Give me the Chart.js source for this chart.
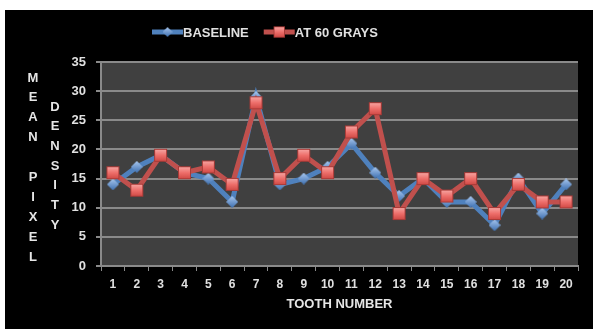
<!DOCTYPE html>
<html>
<head>
<meta charset="utf-8">
<script src="https://cdn.jsdelivr.net/npm/chart.js@4.4.1/dist/chart.umd.min.js"></script>
<style>
  html, body { margin: 0; padding: 0; background: #ffffff; }
  #frame { position: absolute; left: 5px; top: 10px; width: 588px; height: 319px; background: #000000; }
  #chart { display: block; }
</style>
</head>
<body>
<div id="frame"><canvas id="chart" width="588" height="319"></canvas></div>
<script>
// Tooth numbers along the x axis
const teeth = ['1','2','3','4','5','6','7','8','9','10','11','12','13','14','15','16','17','18','19','20'];
// Mean pixel density per tooth
const baseline = [14, 17, 19, 16, 15, 11, 29, 14, 15, 17, 21, 16, 12, 15, 11, 11, 7, 15, 9, 14];
const at60Grays = [16, 13, 19, 16, 17, 14, 28, 15, 19, 16, 23, 27, 9, 15, 12, 15, 9, 14, 11, 11];
// Y axis ticks
const yTicks = [0, 5, 10, 15, 20, 25, 30, 35];

const FONT = '"Liberation Sans", Arial, sans-serif';
const BLUE = '#4f81bd';
const RED = '#c0504d';

// Dark plot background behind the grid
const plotBg = {
  id: 'plotBg',
  beforeDraw(chart) {
    const { ctx, chartArea: a } = chart;
    ctx.save();
    ctx.fillStyle = '#404040';
    ctx.fillRect(a.left, a.top, a.right - a.left, a.bottom - a.top);
    ctx.restore();
  }
};

// Marker shapes with a soft gradient fill
function squareMarker() {
  const s = 15, c = document.createElement('canvas');
  c.width = s; c.height = s;
  const g = c.getContext('2d');
  const grd = g.createLinearGradient(0, 0, 0, s);
  grd.addColorStop(0, '#f9b3b0');
  grd.addColorStop(0.5, '#ee6f6b');
  grd.addColorStop(1, '#c9403c');
  g.fillStyle = grd;
  g.fillRect(1, 1, s - 2, s - 2);
  g.strokeStyle = '#a83a37';
  g.lineWidth = 1;
  g.strokeRect(1.5, 1.5, s - 3, s - 3);
  return c;
}
function diamondMarker() {
  const s = 12, c = document.createElement('canvas');
  c.width = s; c.height = s;
  const g = c.getContext('2d');
  const grd = g.createLinearGradient(0, 0, 0, s);
  grd.addColorStop(0, '#a9c8ef');
  grd.addColorStop(1, '#3d6fb0');
  g.fillStyle = grd;
  g.beginPath();
  g.moveTo(s / 2, 0); g.lineTo(s, s / 2); g.lineTo(s / 2, s); g.lineTo(0, s / 2);
  g.closePath();
  g.fill();
  return c;
}
const sq = squareMarker();
const dm = diamondMarker();

// Legend across the top and the stacked y axis title
const decorations = {
  id: 'decorations',
  afterDraw(chart) {
    const ctx = chart.ctx;
    ctx.save();
    ctx.font = 'bold 13px ' + FONT;
    ctx.textBaseline = 'middle';
    ctx.textAlign = 'left';
    const items = [
      { label: 'BASELINE', color: BLUE, mark: dm },
      { label: 'AT 60 GRAYS', color: RED, mark: sq }
    ];
    let x = 147;
    const y = 22;
    items.forEach(it => {
      ctx.strokeStyle = it.color;
      ctx.lineWidth = 5;
      ctx.beginPath();
      ctx.moveTo(x, y); ctx.lineTo(x + 31, y);
      ctx.stroke();
      ctx.drawImage(it.mark, x + 15.5 - (it.mark.width - 2) / 2, y - (it.mark.height - 2) / 2, it.mark.width - 2, it.mark.height - 2);
      ctx.fillStyle = '#e0e0e0';
      ctx.fillText(it.label, x + 31, y + 1);
      x += 31 + ctx.measureText(it.label).width + 15;
    });

    ctx.font = 'bold 13px ' + FONT;
    ctx.textAlign = 'center';
    ctx.fillStyle = '#e6e6e6';
    const col1 = ['M', 'E', 'A', 'N', '', 'P', 'I', 'X', 'E', 'L'];
    col1.forEach((ch, i) => ctx.fillText(ch, 28, 68 + i * 19.9));
    const col2 = ['D', 'E', 'N', 'S', 'I', 'T', 'Y'];
    col2.forEach((ch, i) => ctx.fillText(ch, 50, 97 + i * 19.7));
    ctx.restore();
  }
};

new Chart(document.getElementById('chart'), {
  type: 'line',
  data: {
    labels: teeth,
    datasets: [
      {
        label: 'BASELINE',
        data: baseline,
        borderColor: BLUE,
        borderWidth: 5,
        pointStyle: dm,
        order: 2,
        tension: 0
      },
      {
        label: 'AT 60 GRAYS',
        data: at60Grays,
        borderColor: RED,
        borderWidth: 5,
        pointStyle: sq,
        order: 1,
        tension: 0
      }
    ]
  },
  options: {
    responsive: false,
    animation: false,
    devicePixelRatio: 1,
    layout: { padding: { left: 0, right: 15, top: 52, bottom: 17 } },
    plugins: {
      legend: { display: false },
      tooltip: { enabled: false }
    },
    scales: {
      x: {
        offset: true,
        grid: {
          offset: true,
          drawOnChartArea: false,
          drawTicks: true,
          tickLength: 5,
          color: '#8a8a8a',
          lineWidth: 1
        },
        border: { display: true, color: '#8a8a8a', width: 2 },
        ticks: {
          color: '#e0e0e0',
          font: { family: FONT, size: 12, weight: 'bold' },
          padding: 6,
          maxRotation: 0,
          autoSkip: false
        },
        title: {
          display: true,
          text: 'TOOTH NUMBER',
          color: '#e6e6e6',
          font: { family: FONT, size: 13, weight: 'bold' },
          padding: { top: 3, bottom: 0 }
        },
        afterFit(scale) { scale.height = 46; }
      },
      y: {
        min: 0,
        max: 35,
        afterBuildTicks(scale) { scale.ticks = yTicks.map(v => ({ value: v })); },
        grid: {
          color: '#8a8a8a',
          lineWidth: 2,
          tickLength: 5
        },
        border: { display: true, color: '#8a8a8a', width: 2 },
        ticks: {
          color: '#e0e0e0',
          font: { family: FONT, size: 13, weight: 'bold' },
          padding: 10
        },
        afterFit(scale) { scale.width = 96; }
      }
    }
  },
  plugins: [plotBg, decorations]
});
</script>
</body>
</html>
